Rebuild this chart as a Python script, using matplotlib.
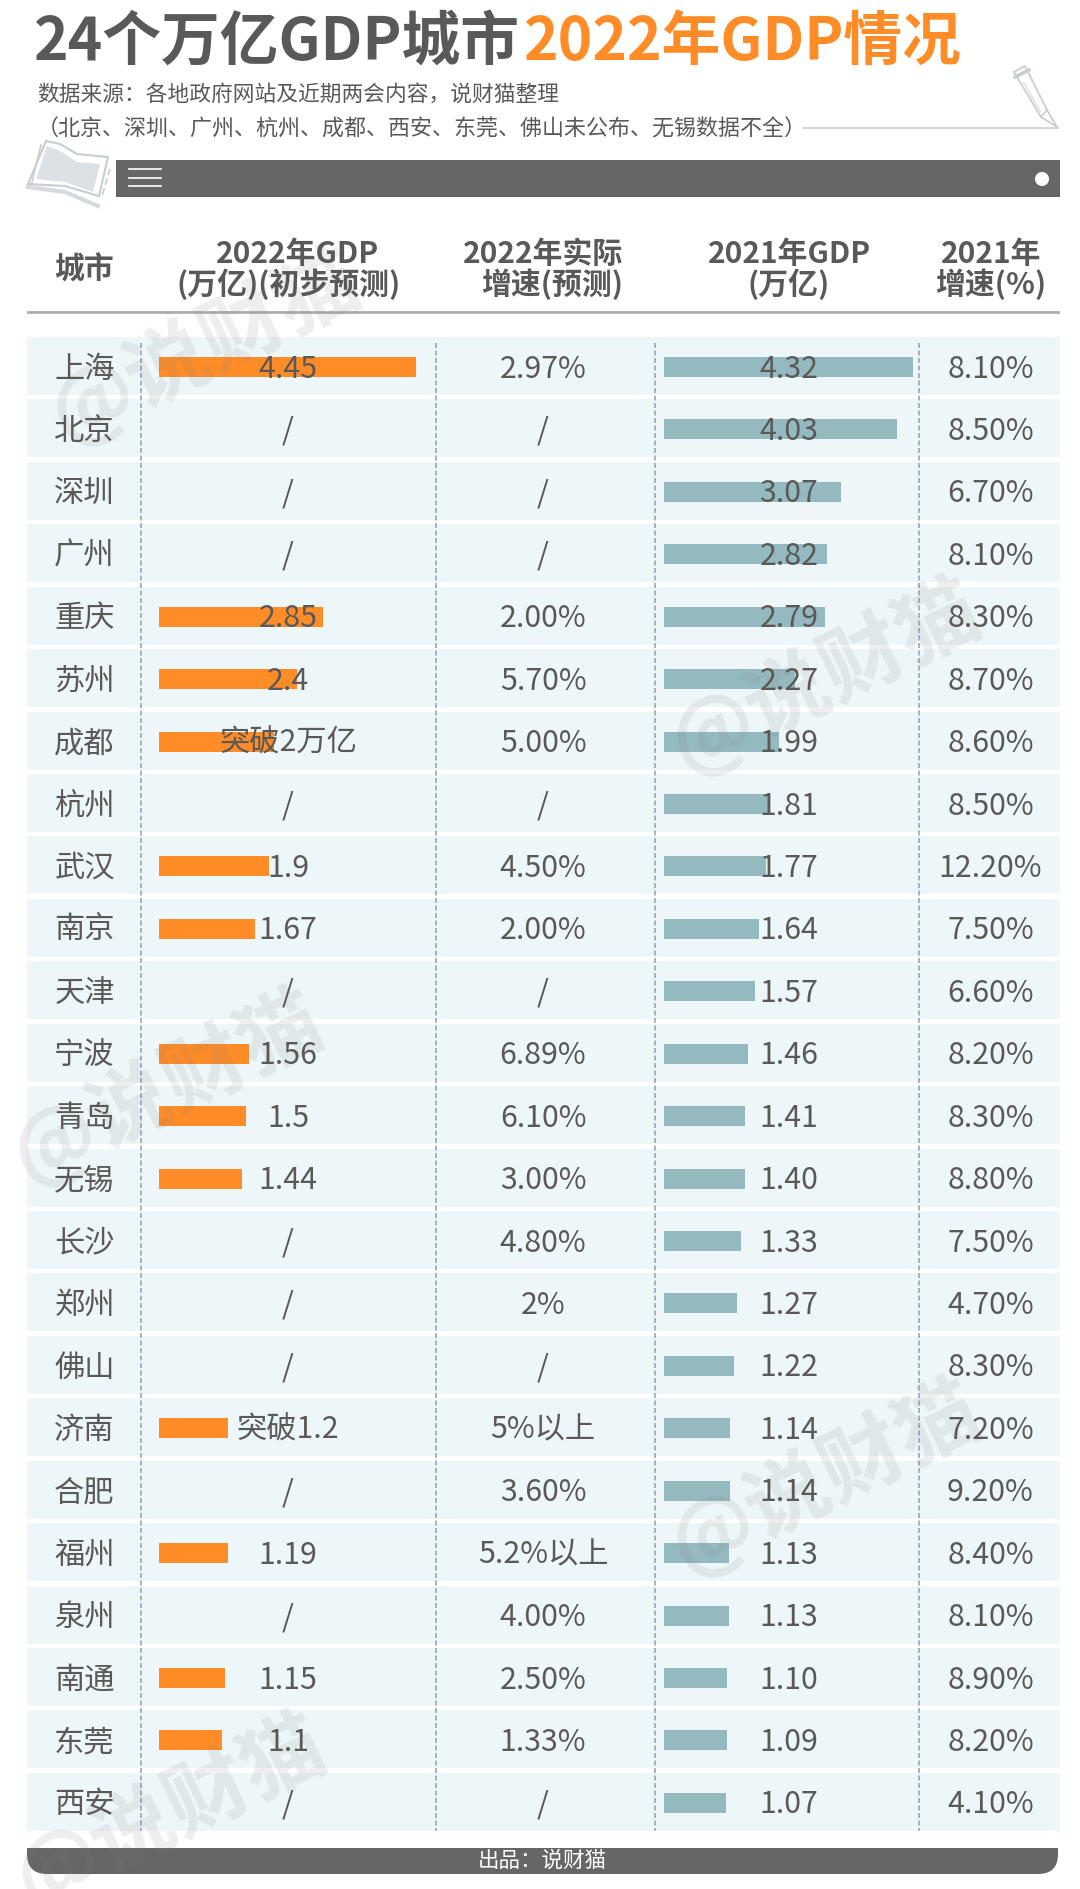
import matplotlib
matplotlib.use('Agg')
import matplotlib.pyplot as plt
from matplotlib.patches import Rectangle, FancyBboxPatch, Polygon, Ellipse

plt.rcParams['font.family'] = ['Noto Sans CJK SC', 'DejaVu Sans']

# table data, None means the cell has no bar
cities = ['上海', '北京', '深圳', '广州', '重庆', '苏州', '成都', '杭州', '武汉', '南京', '天津', '宁波',
          '青岛', '无锡', '长沙', '郑州', '佛山', '济南', '合肥', '福州', '泉州', '南通', '东莞', '西安']
gdp22_bar = [4.45, None, None, None, 2.85, 2.4, 2.0, None, 1.9, 1.67, None, 1.56,
             1.5, 1.44, None, None, None, 1.2, None, 1.19, None, 1.15, 1.1, None]
gdp22_label = ['4.45', '/', '/', '/', '2.85', '2.4', '突破2万亿', '/', '1.9', '1.67', '/', '1.56',
               '1.5', '1.44', '/', '/', '/', '突破1.2', '/', '1.19', '/', '1.15', '1.1', '/']
growth22 = ['2.97%', '/', '/', '/', '2.00%', '5.70%', '5.00%', '/', '4.50%', '2.00%', '/', '6.89%',
            '6.10%', '3.00%', '4.80%', '2%', '/', '5%以上', '3.60%', '5.2%以上', '4.00%', '2.50%', '1.33%', '/']
gdp21 = [4.32, 4.03, 3.07, 2.82, 2.79, 2.27, 1.99, 1.81, 1.77, 1.64, 1.57, 1.46,
         1.41, 1.40, 1.33, 1.27, 1.22, 1.14, 1.14, 1.13, 1.13, 1.10, 1.09, 1.07]
growth21 = ['8.10%', '8.50%', '6.70%', '8.10%', '8.30%', '8.70%', '8.60%', '8.50%', '12.20%', '7.50%', '6.60%', '8.20%',
            '8.30%', '8.80%', '7.50%', '4.70%', '8.30%', '7.20%', '9.20%', '8.40%', '8.10%', '8.90%', '8.20%', '4.10%']

W, H = 1080, 1890
GRAY = '#595959'
DARK = '#666666'
ORANGE = '#ff8c27'
TEAL = '#94babf'
ROW_BG = '#edf6f9'
ROW0 = 367
PITCH = 62.43
PX_PER_UNIT = 57.7


def row_y(i):
    return ROW0 + PITCH * i


def px_axes(left, top, width, height, z):
    a = fig.add_axes([left / W, 1 - (top + height) / H, width / W, height / H], zorder=z)
    a.axis('off')
    a.patch.set_alpha(0)
    return a


fig = plt.figure(figsize=(W / 100, H / 100), dpi=100, facecolor='white')

# background layer, pixel coordinates
ax = px_axes(0, 0, W, H, 0)
ax.set_xlim(0, W)
ax.set_ylim(H, 0)

for i in range(len(cities)):
    ax.add_patch(Rectangle((27, row_y(i) - 29), 1033, 58, color=ROW_BG, lw=0))
for x in [140.5, 436, 655, 919]:
    ax.plot([x, x], [344, 1832], color='#9aa5b8', lw=1.2, ls=(0, (3, 1.5)))

ax.plot([28, 1058], [313, 313], color='#adadad', lw=2)
ax.plot([803, 1058], [129, 129], color='#c9ced2', lw=1.2)

# dark strip with menu icon
ax.add_patch(Rectangle((116, 161), 944, 37, color=DARK, lw=0))
for y in [170, 178.5, 187]:
    ax.plot([129, 161], [y, y], color='white', lw=1.2)
ax.add_patch(Ellipse((1042, 180), 14, 14, color='white', lw=0))

# footer strip, only the lower corners are round
foot = FancyBboxPatch((47, 1825), 991, 30, boxstyle='round,pad=20,rounding_size=20', color=DARK, lw=0)
ax.add_patch(foot)
foot.set_clip_path(Rectangle((0, 1849), W, 41, transform=ax.transData))

# book icon
ax.plot([28, 65, 98], [188, 193, 207], color='#d5dade', lw=3)
ax.add_patch(Polygon([[46, 142], [60, 145], [77, 155], [108, 158], [99, 197], [65, 187], [28, 185]],
                     closed=True, fc='white', ec='#c6ced3', lw=1.5))
ax.add_patch(Polygon([[47, 147], [60, 152], [77, 163], [100, 165], [93, 193], [65, 183], [36, 180]],
                     closed=True, fc='#dce1e5', ec='none'))
ax.plot([41, 32], [146, 183], color='#c6ced3', lw=1.2)
ax.plot([110, 102], [170, 197], color='#c6ced3', lw=1.2, ls=(0, (4, 2)))

# pencil icon
ax.add_patch(Polygon([[1014, 73], [1025, 67], [1047, 111], [1057, 128], [1041, 118]],
                     closed=True, fc='white', ec='#c9ced2', lw=1.3))
ax.plot([1015, 1029], [78, 71], color='#c9ced2', lw=2.5)
ax.plot([1041, 1047], [118, 111], color='#c9ced2', lw=1.2)
ax.plot([1024, 1040], [84, 112], color='#dfe3e6', lw=1.2)

# bars
ax_o = px_axes(159, row_y(0) - PITCH / 2 + 1, PX_PER_UNIT * 4.5, PITCH * 24, 1)
ax_o.set_xlim(0, 4.5)
ax_o.set_ylim(23.5, -0.5)
for i, v in enumerate(gdp22_bar):
    if v is not None:
        ax_o.barh(i, v, height=0.32, color=ORANGE, lw=0)

ax_t = px_axes(664, row_y(0) - PITCH / 2 + 1, PX_PER_UNIT * 4.5, PITCH * 24, 1)
ax_t.set_xlim(0, 4.5)
ax_t.set_ylim(23.5, -0.5)
ax_t.barh(range(len(gdp21)), gdp21, height=0.32, color=TEAL, lw=0)

# text layer
top = px_axes(0, 0, W, H, 2)
top.set_xlim(0, W)
top.set_ylim(H, 0)

t1 = top.text(34, 43, '24个万亿GDP城市', fontsize=42.3, fontweight='bold', color=GRAY, va='center', ha='left')
fig.canvas.draw()
end = t1.get_window_extent().x1
top.text(end + 4, 43, '2022年GDP情况', fontsize=42.3, fontweight='bold', color=ORANGE, va='center', ha='left')

top.text(37, 95, '数据来源：各地政府网站及近期两会内容，说财猫整理', fontsize=15.65, color=GRAY, va='center')
top.text(37, 129.5, '（北京、深圳、广州、杭州、成都、西安、东莞、佛山未公布、无锡数据不全）', fontsize=15.85, color=GRAY, va='center')

head = dict(fontsize=21.5, fontweight='bold', color=GRAY, va='center', ha='center')
top.text(84.5, 270, '城市', **head)
top.text(298, 254.5, '2022年GDP', **head)
top.text(288.5, 284, '(万亿)(初步预测)', **head)
top.text(543.5, 254.5, '2022年实际', **head)
top.text(552.5, 284, '增速(预测)', **head)
top.text(789.5, 254.5, '2021年GDP', **head)
top.text(789, 284, '(万亿)', **head)
top.text(991, 254.5, '2021年', **head)
top.text(991, 284, '增速(%)', **head)

cell = dict(fontsize=21.8, color=GRAY, va='center', ha='center')
for i in range(len(cities)):
    y = row_y(i) + 2
    top.text(84.5, y, cities[i], **cell)
    top.text(288, y, gdp22_label[i], **cell)
    top.text(543, y, growth22[i], **cell)
    top.text(789, y, '%.2f' % gdp21[i], **cell)
    top.text(990.5, y, growth21[i], **cell)

top.text(542, 1861, '出品：说财猫', fontsize=15.5, color='white', va='center', ha='center')

# watermarks sit under the text
for wx, wy in [(205, 347), (825, 677), (167, 1088), (825, 1478), (170, 1812)]:
    top.text(wx, wy, '@说财猫', fontsize=60, fontweight='bold', color='#7f7f7f', alpha=0.13,
             rotation=26, ha='center', va='center', rotation_mode='anchor', zorder=1)

fig.savefig('out.png', dpi=100)
